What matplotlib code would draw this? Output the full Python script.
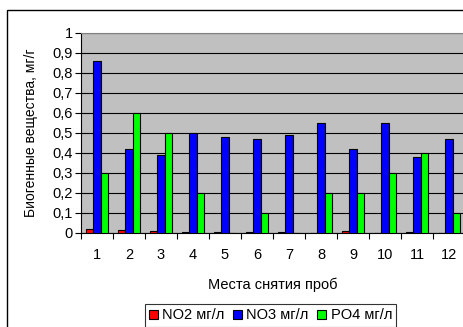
import matplotlib
matplotlib.use("Agg")
import matplotlib.pyplot as plt
from matplotlib.patches import Rectangle
from matplotlib.ticker import FuncFormatter
import numpy as np

plt.rcParams['font.family'] = ['Liberation Sans', 'DejaVu Sans']

sites = ['1', '2', '3', '4', '5', '6', '7', '8', '9', '10', '11', '12']
no2 = [0.02, 0.015, 0.01, 0.005, 0.005, 0.005, 0.005, 0.0, 0.01, 0.0, 0.005, 0.0]
no3 = [0.86, 0.42, 0.39, 0.50, 0.48, 0.47, 0.49, 0.55, 0.42, 0.55, 0.38, 0.47]
po4 = [0.30, 0.60, 0.50, 0.20, 0.0, 0.10, 0.0, 0.20, 0.20, 0.30, 0.40, 0.10]
series = [('NO2 мг/л', no2, '#FF0000'),
          ('NO3 мг/л', no3, '#0000FF'),
          ('PO4 мг/л', po4, '#00FF00')]

fig = plt.figure(figsize=(4.63, 3.27), dpi=100)
fig.patch.set_facecolor('white')

# chart-area frame
fig.patches.append(Rectangle((7 / 463, -0.05), 1.2, 1 - 10 / 327 + 0.05,
                             transform=fig.transFigure, fill=False,
                             edgecolor='black', linewidth=1.0, zorder=0))

ax = fig.add_axes([81 / 463, 1 - 233 / 327, 384 / 463, 200 / 327])
ax.set_facecolor('#C0C0C0')

x = np.arange(len(sites))
w = 0.235
for i, (name, vals, col) in enumerate(series):
    ax.bar(x + (i - 1) * w, vals, width=w, color=col, edgecolor='black',
           linewidth=0.8, label=name, zorder=3)

ax.set_xlim(-0.5, len(sites) - 0.5)
ax.set_ylim(0, 1)
ax.set_yticks(np.arange(0, 1.01, 0.1))
ax.yaxis.set_major_formatter(FuncFormatter(
    lambda v, p: ('%g' % round(v, 1)).replace('.', ',')))
ax.yaxis.grid(True, color='black', linewidth=0.8, zorder=1)
ax.set_axisbelow(True)

ax.set_xticks(x)
ax.set_xticklabels(sites)
ax.set_xticks(np.arange(-0.5, len(sites), 1), minor=True)
ax.tick_params(axis='x', which='major', length=0, pad=11, labelsize=10.5)
ax.tick_params(axis='x', which='minor', length=4, direction='out', width=0.8)
ax.tick_params(axis='y', length=4, direction='out', width=0.8, labelsize=10.5, pad=2)

for s in ['top', 'right']:
    ax.spines[s].set_color('#808080')
ax.spines['left'].set_color('black')
ax.spines['bottom'].set_color('black')

ax.set_xlabel('Места снятия проб', fontsize=10.5, labelpad=11)
ax.set_ylabel('Биогенные вещества, мг/г', fontsize=10, labelpad=10)

leg = fig.legend(loc='upper center', bbox_to_anchor=(270.5 / 463, 1 - 304 / 327),
                 ncol=3, fontsize=10.5, frameon=True, fancybox=False,
                 edgecolor='black', handlelength=0.6, handleheight=0.6,
                 handletextpad=0.3, columnspacing=0.6, borderpad=0.3,
                 borderaxespad=0)
leg.get_frame().set_linewidth(0.8)

fig.savefig('out.png', dpi=100)
